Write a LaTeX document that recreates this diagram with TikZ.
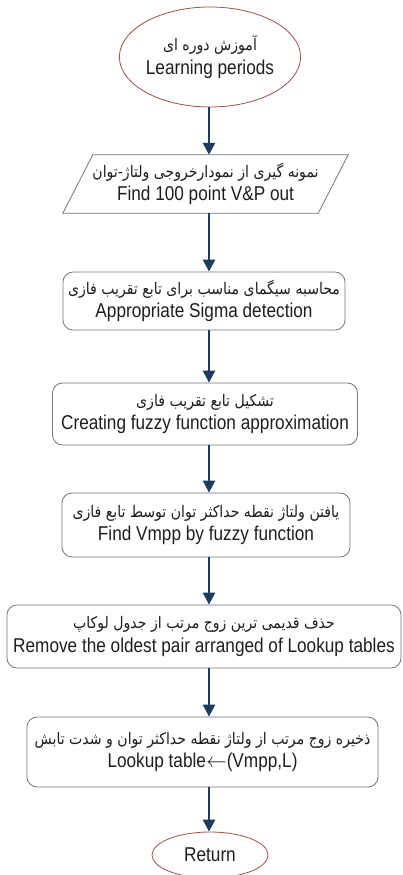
\documentclass[tikz,border=0pt]{standalone}
\usepackage{fontspec}
\setmainfont[FakeStretch=0.86]{Liberation Sans}
\newfontfamily\fa[Script=Arabic,FakeStretch=0.88]{DejaVu Sans}
\TeXXeTstate=1
\usetikzlibrary{arrows.meta,shapes.geometric}
\definecolor{arrowblue}{HTML}{1F3B5E}
\definecolor{boxgray}{HTML}{6E7680}
\definecolor{ovalred}{HTML}{A0504C}
\definecolor{txt}{HTML}{1E1E1E}
\tikzset{
  txtstyle/.style={text=txt, align=center, font=\fontsize{20}{23.5}\selectfont},
  oval/.style={ellipse, draw=ovalred, line width=0.8pt, inner sep=0pt, txtstyle},
  stepbox/.style={rectangle, rounded corners=10pt, draw=boxgray, line width=0.8pt, inner sep=0pt, txtstyle},
  iobox/.style={rectangle, inner sep=0pt, txtstyle},
  flow/.style={draw=arrowblue, line width=2.6pt, -{Triangle[width=12pt,length=12pt]}},
}
\newcommand{\fatext}[1]{{\fa\fontsize{16}{18}\selectfont\beginR #1\endR}}
\begin{document}
\begin{tikzpicture}[x=1pt,y=-1pt]
\useasboundingbox (0,0) rectangle (403,875);

\node[oval, minimum width=160pt, minimum height=100pt] (start) at (210,57)
  {\fatext{آموزش دوره ای}\\Learning periods};

\node[iobox, minimum width=285pt, minimum height=58pt] (sample) at (205.5,184)
  {\fatext{نمونه گیری از نمودارخروجی ولتاژ-توان}\\Find 100 point V\&P out};
\draw[boxgray, line width=0.8pt]
  ([xshift=30pt]sample.north west) -- (sample.north east)
  -- ([xshift=-30pt]sample.south east) -- (sample.south west) -- cycle;

\node[stepbox, minimum width=282pt, minimum height=58pt] (sigma) at (204,301)
  {\fatext{محاسبه سیگمای مناسب برای تابع تقریب فازی}\\Appropriate Sigma detection};

\node[stepbox, minimum width=305pt, minimum height=62pt] (fuzzy) at (205,414)
  {\fatext{تشکیل تابع تقریب فازی}\\Creating fuzzy function approximation};

\node[stepbox, minimum width=288pt, minimum height=64pt] (vmpp) at (206,525)
  {\fatext{یافتن ولتاژ نقطه حداکثر توان توسط تابع فازی}\\Find Vmpp by fuzzy function};

\node[stepbox, minimum width=394pt, minimum height=63pt] (remove) at (204,636.5)
  {\fatext{حذف قدیمی ترین زوج مرتب از جدول لوکاپ}\\Remove the oldest pair arranged of Lookup tables};

\node[stepbox, minimum width=351pt, minimum height=70pt] (store) at (202.5,752)
  {\fatext{ذخیره زوج مرتب از ولتاژ نقطه حداکثر توان و شدت تابش}\\Lookup table\ensuremath{\leftarrow}(Vmpp,L)};

\node[oval, minimum width=116pt, minimum height=46pt] (ret) at (210,855) {Return};

% vertical connectors along the flow axis
\coordinate (axis) at (209,0);
\draw[flow] (start.south -| axis) -- (sample.north -| axis);
\draw[flow] (sample.south -| axis) -- (sigma.north -| axis);
\draw[flow] (sigma.south -| axis) -- (fuzzy.north -| axis);
\draw[flow] (fuzzy.south -| axis) -- (vmpp.north -| axis);
\draw[flow] (vmpp.south -| axis) -- (remove.north -| axis);
\draw[flow] (remove.south -| axis) -- (store.north -| axis);
\draw[flow] (store.south -| axis) -- (ret.north -| axis);
\end{tikzpicture}
\end{document}
